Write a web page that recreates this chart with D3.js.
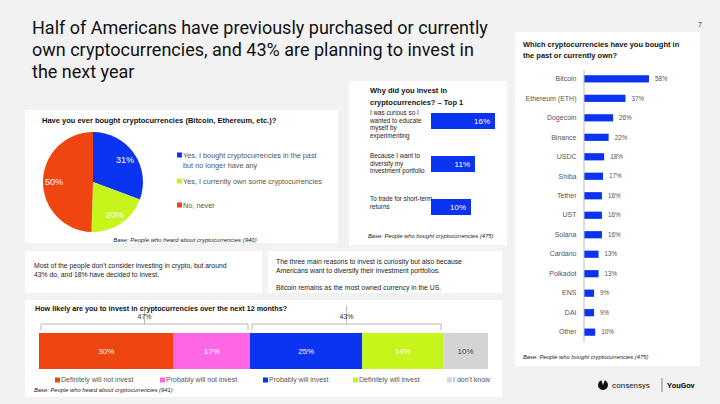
<!DOCTYPE html>
<html>
<head>
<meta charset="utf-8">
<script src="https://cdn.jsdelivr.net/npm/d3@7"></script>
<style>
  body { margin: 0; background: #f2f2f2; }
  svg { display: block; font-family: "Liberation Sans", Arial, sans-serif; }
</style>
</head>
<body>
<div id="container"></div>
<script>
// ---- data ----
var pieLabels = [["Yes, I bought cryptocurrencies in the past", "but no longer have any"], ["Yes, I currently own some cryptocurrencies"], ["No, never"]];
var pieValues = [31, 20, 50];
var pieColors = ["#0b33f2", "#c5f51b", "#ef4511"];

var reasonLabels = [["I was curious so I", "wanted to educate", "myself by", "experimenting"], ["Because I want to", "diversify my", "investment portfolio"], ["To trade for short-term", "returns"]];
var reasonValues = [16, 11, 10];

var coins = ["Bitcoin", "Ethereum (ETH)", "Dogecoin", "Binance", "USDC", "Shiba", "Tether", "UST", "Solana", "Cardano", "Polkadot", "ENS", "DAI", "Other"];
var coinValues = [58, 37, 26, 22, 18, 17, 16, 16, 16, 13, 13, 9, 9, 10];

var likelyLabels = ["Definitely will not invest", "Probably will not invest", "Probably will invest", "Definitely will invest", "I don't know"];
var likelyValues = [30, 17, 25, 18, 10];
var likelyColors = ["#ef4511", "#ff66e6", "#0b33f2", "#c5f51b", "#d4d4d4"];
var bracketGroups = [[0, 1], [2, 3]];
var bracketLabels = ["47%", "43%"];

var titleLines = ["Half of Americans have previously purchased or currently", "own cryptocurrencies, and 43% are planning to invest in", "the next year"];

var W = 720, H = 404;
var svg = d3.select("#container").append("svg")
  .attr("width", W).attr("height", H)
  .attr("viewBox", "0 0 " + W + " " + H);

svg.append("rect").attr("width", W).attr("height", H).attr("fill", "#f2f2f2");

// panels
var panels = [
  [25, 110, 313, 133], // pie
  [349, 81, 158, 164], // why
  [515, 32, 185, 334], // which coins
  [25, 251, 237, 42],  // text A
  [268, 251, 234, 42], // text B
  [25, 300, 477, 97]   // stacked
];
svg.selectAll("rect.panel").data(panels).enter().append("rect")
  .attr("class", "panel")
  .attr("x", function(d) { return d[0]; }).attr("y", function(d) { return d[1]; })
  .attr("width", function(d) { return d[2]; }).attr("height", function(d) { return d[3]; })
  .attr("fill", "#fff");

// main title
svg.append("g").selectAll("text").data(titleLines).enter().append("text")
  .attr("x", 32).attr("y", function(d, i) { return 34 + i * 22; })
  .attr("font-family", "Roboto, 'Open Sans', sans-serif")
  .attr("font-size", 18).attr("fill", "#111")
  .text(function(d) { return d; });

svg.append("text").attr("x", 698).attr("y", 27).attr("font-size", 7).attr("fill", "#333").text("7");

// ---- pie ----
var pieG = svg.append("g").attr("transform", "translate(93,182)");
var pie = d3.pie().sort(null).value(function(d) { return d; });
var arc = d3.arc().innerRadius(0).outerRadius(50);
var labelArc = d3.arc().innerRadius(39).outerRadius(39);
var arcs = pie(pieValues);
pieG.selectAll("path").data(arcs).enter().append("path")
  .attr("d", arc).attr("fill", function(d, i) { return pieColors[i]; });
pieG.selectAll("text").data(arcs).enter().append("text")
  .attr("transform", function(d) { return "translate(" + labelArc.centroid(d) + ")"; })
  .attr("text-anchor", "middle").attr("dy", "0.35em")
  .attr("font-size", 9).attr("fill", "#fff")
  .text(function(d) { return d.value + "%"; });

svg.append("text").attr("x", 42).attr("y", 123)
  .attr("font-size", 7.5).attr("font-weight", "bold").attr("fill", "#111")
  .text("Have you ever bought cryptocurrencies (Bitcoin, Ethereum, etc.)?");

var pieLegY = [155, 181, 205];
var pieLeg = svg.append("g").selectAll("g").data(pieLabels).enter().append("g")
  .attr("transform", function(d, i) { return "translate(177," + pieLegY[i] + ")"; });
pieLeg.append("rect").attr("x", 0).attr("y", -2.5).attr("width", 5).attr("height", 5)
  .attr("fill", function(d, i) { return pieColors[i]; });
pieLeg.selectAll("text").data(function(d) { return d; }).enter().append("text")
  .attr("x", 6).attr("y", function(d, j) { return j * 10; }).attr("dy", "0.35em")
  .attr("font-size", 7.3).attr("fill", "#555")
  .text(function(d) { return d; });

svg.append("text").attr("x", 185).attr("y", 242).attr("text-anchor", "middle")
  .attr("font-size", 6).attr("font-style", "italic").attr("fill", "#222")
  .text("Base: People who heard about cryptocurrencies (940)");

// ---- why did you invest ----
svg.append("g").selectAll("text").data(["Why did you invest in", "cryptocurrencies? \u2013 Top 1"]).enter().append("text")
  .attr("x", 370).attr("y", function(d, i) { return 93 + i * 12; })
  .attr("font-size", 7.5).attr("font-weight", "bold").attr("fill", "#111")
  .text(function(d) { return d; });

var rx = d3.scaleLinear().domain([0, 100]).range([431, 831]);
var reasonY = [113, 156, 199];
var rg = svg.append("g").selectAll("g").data(reasonValues).enter().append("g");
rg.append("rect")
  .attr("x", rx(0)).attr("y", function(d, i) { return reasonY[i]; })
  .attr("width", function(d) { return rx(d) - rx(0); }).attr("height", 16)
  .attr("fill", "#0b33f2");
rg.append("text")
  .attr("x", function(d) { return rx(d) - 5; }).attr("y", function(d, i) { return reasonY[i] + 8; })
  .attr("dy", "0.35em").attr("text-anchor", "end")
  .attr("font-size", 8).attr("fill", "#fff")
  .text(function(d) { return d + "%"; });
rg.each(function(d, i) {
  d3.select(this).selectAll("text.cat").data(reasonLabels[i]).enter().append("text")
    .attr("class", "cat")
    .attr("x", 370).attr("y", function(t, j) { return reasonY[i] + 2 + j * 7.5; })
    .attr("font-size", 6.3).attr("fill", "#222")
    .text(function(t) { return t; });
});
svg.append("text").attr("x", 368).attr("y", 238)
  .attr("font-size", 5.8).attr("font-style", "italic").attr("fill", "#222")
  .text("Base: People who bought cryptocurrencies (475)");

// ---- which cryptocurrencies ----
svg.append("g").selectAll("text").data(["Which cryptocurrencies have you bought in", "the past or currently own?"]).enter().append("text")
  .attr("x", 523).attr("y", function(d, i) { return 47 + i * 10.5; })
  .attr("font-size", 7.5).attr("font-weight", "bold").attr("fill", "#111")
  .text(function(d) { return d; });

var cy = d3.scaleBand().domain(coins).range([69, 342]).paddingInner(0.63).paddingOuter(0.32);
var cx = d3.scaleLinear().domain([0, 100]).range([584, 696]);
var cg = svg.append("g");
cg.selectAll("rect").data(coinValues).enter().append("rect")
  .attr("x", cx(0)).attr("y", function(d, i) { return cy(coins[i]); })
  .attr("width", function(d) { return cx(d) - cx(0); }).attr("height", cy.bandwidth())
  .attr("fill", "#0b33f2");
cg.selectAll("text.val").data(coinValues).enter().append("text").attr("class", "val")
  .attr("x", function(d) { return cx(d) + 6; })
  .attr("y", function(d, i) { return cy(coins[i]) + cy.bandwidth() / 2; })
  .attr("dy", "0.35em").attr("font-size", 6.3).attr("fill", "#555")
  .text(function(d) { return d + "%"; });
var yAxis = d3.axisLeft(cy).tickSize(0).tickPadding(7);
var ya = svg.append("g").attr("transform", "translate(" + (cx(0) - 0.5) + ",0)").call(yAxis);
ya.select(".domain").attr("stroke", "#bbb").attr("stroke-width", 1);
ya.selectAll("text").attr("font-size", 7).attr("fill", "#555").attr("font-family", "'Liberation Sans', Arial, sans-serif");
svg.append("text").attr("x", 523).attr("y", 359)
  .attr("font-size", 5.8).attr("font-style", "italic").attr("fill", "#222")
  .text("Base: People who bought cryptocurrencies (475)");

// ---- text panels ----
svg.append("g").selectAll("text").data(["Most of the people don't consider investing in crypto, but around", "43% do, and 18% have decided to invest."]).enter().append("text")
  .attr("x", 34).attr("y", function(d, i) { return 268 + i * 8.5; })
  .attr("font-size", 6.8).attr("fill", "#222").text(function(d) { return d; });
svg.append("g").selectAll("text").data(["The three main reasons to invest is curiosity but also because", "Americans want to diversify their investment portfolios.", "", "Bitcoin remains as the most owned currency in the US."]).enter().append("text")
  .attr("x", 276).attr("y", function(d, i) { return 264 + i * 8.8; })
  .attr("font-size", 6.8).attr("fill", "#222").text(function(d) { return d; });

// ---- stacked likelihood ----
svg.append("text").attr("x", 35).attr("y", 311)
  .attr("font-size", 7.2).attr("font-weight", "bold").attr("fill", "#111")
  .text("How likely are you to invest in cryptocurrencies over the next 12 months?");

var sx = d3.scaleLinear().domain([0, 100]).range([39, 488]);
var starts = [0].concat(Array.from(d3.cumsum(likelyValues)));
var sg = svg.append("g");
sg.selectAll("rect").data(likelyValues).enter().append("rect")
  .attr("x", function(d, i) { return sx(starts[i]); }).attr("y", 333)
  .attr("width", function(d) { return sx(d) - sx(0); }).attr("height", 36)
  .attr("fill", function(d, i) { return likelyColors[i]; });
sg.selectAll("text").data(likelyValues).enter().append("text")
  .attr("x", function(d, i) { return sx(starts[i] + d / 2); }).attr("y", 351)
  .attr("dy", "0.35em").attr("text-anchor", "middle").attr("font-size", 8)
  .attr("fill", function(d, i) { return i === 4 ? "#444" : "#fff"; })
  .text(function(d) { return d + "%"; });

var bg = svg.append("g").attr("fill", "none").attr("stroke", "#999").attr("stroke-width", 0.7);
bracketGroups.forEach(function(gr, k) {
  var a = sx(starts[gr[0]]) + 2, b = sx(starts[gr[1] + 1]) - 2, m = (a + b) / 2;
  bg.append("path").attr("d", "M" + a + ",330V324H" + b + "V330M" + m + ",324V306");
  svg.append("text").attr("x", m).attr("y", 319).attr("text-anchor", "middle")
    .attr("font-size", 7).attr("fill", "#333").text(bracketLabels[k]);
});

var legX = [55, 160, 263, 353, 447];
var lg = svg.append("g").selectAll("g").data(likelyLabels).enter().append("g")
  .attr("transform", function(d, i) { return "translate(" + legX[i] + ",380)"; });
lg.append("rect").attr("x", 0).attr("y", -2.5).attr("width", 5).attr("height", 5)
  .attr("fill", function(d, i) { return likelyColors[i]; });
lg.append("text").attr("x", 6).attr("dy", "0.35em").attr("font-size", 7).attr("fill", "#555")
  .text(function(d) { return d; });
svg.append("text").attr("x", 34).attr("y", 392)
  .attr("font-size", 5.8).attr("font-style", "italic").attr("fill", "#222")
  .text("Base: People who heard about cryptocurrencies (941)");

// ---- logos ----
var logo = svg.append("g").attr("transform", "translate(603,385)");
logo.append("path")
  .attr("d", d3.arc().innerRadius(0).outerRadius(5).startAngle(0.35).endAngle(2 * Math.PI - 0.35)())
  .attr("fill", "#111");
logo.append("text").attr("x", 9).attr("dy", "0.35em").attr("font-size", 8).attr("fill", "#111")
  .attr("font-family", "Roboto, sans-serif").text("consensys");
logo.append("line").attr("x1", 59).attr("x2", 59).attr("y1", -7).attr("y2", 7).attr("stroke", "#555").attr("stroke-width", 0.7);
logo.append("text").attr("x", 64).attr("dy", "0.35em").attr("font-size", 8).attr("font-weight", "bold").attr("fill", "#111")
  .attr("font-family", "Roboto, sans-serif").text("YouGov");
</script>
</body>
</html>
